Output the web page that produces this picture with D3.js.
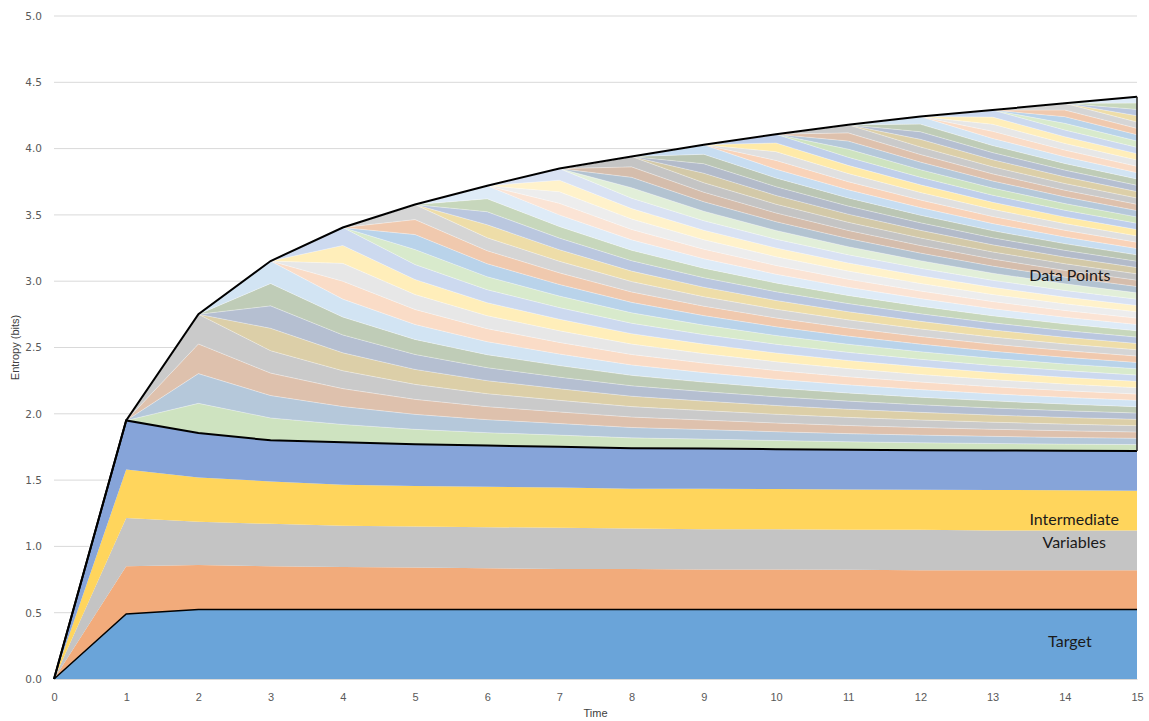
<!DOCTYPE html>
<html>
<head>
<meta charset="utf-8">
<script src="https://cdn.jsdelivr.net/npm/d3@7"></script>
<style>
  html, body { margin: 0; padding: 0; background: #fff; }
  svg { display: block; }
  .tick text { fill: #595959; }
</style>
</head>
<body>
<svg id="chart" width="1149" height="721"></svg>
<script>
// Time steps
const times = [0, 1, 2, 3, 4, 5, 6, 7, 8, 9, 10, 11, 12, 13, 14, 15];

// Entropy contributions (bits) of the target and the intermediate variables
const target        = [0, 0.49, 0.525, 0.525, 0.525, 0.525, 0.525, 0.525, 0.525, 0.525, 0.525, 0.525, 0.525, 0.525, 0.525, 0.525];
const intermediateA = [0, 0.36, 0.335, 0.325, 0.32, 0.315, 0.31, 0.305, 0.305, 0.30, 0.30, 0.298, 0.296, 0.295, 0.295, 0.295];
const intermediateB = [0, 0.364, 0.325, 0.32, 0.31, 0.31, 0.31, 0.31, 0.305, 0.305, 0.305, 0.302, 0.304, 0.30, 0.30, 0.30];
const intermediateC = [0, 0.366, 0.335, 0.32, 0.31, 0.305, 0.305, 0.305, 0.30, 0.305, 0.302, 0.305, 0.303, 0.306, 0.304, 0.30];
const intermediateD = [0, 0.37, 0.335, 0.31, 0.32, 0.315, 0.31, 0.307, 0.305, 0.303, 0.301, 0.298, 0.297, 0.297, 0.297, 0.30];

// Data points: a batch of new points arrives at each step from t = 2
const pointsPerBatch = 4;
const firstBatchTime = 2;
// entropy carried by each data point present at each time
const pointEntropy = [0, 0, 0.224, 0.169, 0.135, 0.113, 0.098, 0.0874, 0.0786, 0.0716, 0.066, 0.0613, 0.0572, 0.0535, 0.0504, 0.0477];

// Fill colours
const baseColors = ["#6AA4D9", "#F2AB7B", "#C4C4C4", "#FFD55C", "#86A4D9"];
const pointPalette = [
  "#5B9BD5", "#ED7D31", "#A5A5A5", "#FFC000", "#4472C4", "#70AD47",
  "#255E91", "#9E480E", "#636363", "#997300", "#264478", "#43682B",
  "#7CAFDD", "#F1975A", "#B7B7B7", "#FFCD33", "#698ED0", "#8CC168",
  "#327DC2", "#D26012", "#848484", "#CC9A00", "#335AA1", "#5A8A39",
  "#9DC3E6", "#F4B183", "#C9C9C9", "#FFD966", "#8FAADC", "#A9D18E",
  "#1F4E79", "#843C0C", "#525252", "#7F6000", "#203864", "#385723"
];

const yTicks = [0, 0.5, 1.0, 1.5, 2.0, 2.5, 3.0, 3.5, 4.0, 4.5, 5.0];

// ---- build the table ----
const baseKeys = ["target", "ivA", "ivB", "ivC", "ivD"];
const baseSeries = [target, intermediateA, intermediateB, intermediateC, intermediateD];
const lastTime = times[times.length - 1];
const pointKeys = [];
const pointBatch = [];
for (let b = firstBatchTime; b <= lastTime; b++) {
  for (let k = 0; k < pointsPerBatch; k++) {
    pointKeys.push("p" + pointKeys.length);
    pointBatch.push(b);
  }
}
const keys = baseKeys.concat(pointKeys);
const rows = times.map((t, i) => {
  const r = { time: t };
  baseKeys.forEach((k, j) => { r[k] = baseSeries[j][i]; });
  pointKeys.forEach((k, j) => {
    r[k] = t < pointBatch[j] ? 0 : pointEntropy[i];
  });
  return r;
});

const stacked = d3.stack().keys(keys)(rows);

// ---- layout ----
const svg = d3.select("#chart");
const margin = { left: 54, right: 12, top: 16, bottom: 42 };
const W = 1149, H = 721;
const x = d3.scaleLinear().domain([0, 15]).range([margin.left, W - margin.right]);
const y = d3.scaleLinear().domain([0, 5]).range([H - margin.bottom, margin.top]);

// gridlines
svg.append("g")
  .selectAll("line")
  .data(yTicks.filter(v => v > 0))
  .join("line")
  .attr("x1", x(0)).attr("x2", x(15))
  .attr("y1", d => y(d)).attr("y2", d => y(d))
  .attr("stroke", "#D9D9D9").attr("stroke-width", 1);

const area = d3.area()
  .x(d => x(d.data.time))
  .y0(d => y(d[0]))
  .y1(d => y(d[1]));

const colorOf = (i) => i < baseKeys.length ? baseColors[i] : pointPalette[i % pointPalette.length];

const layers = svg.append("g");
layers.selectAll("path")
  .data(stacked)
  .join("path")
  .attr("d", area)
  .attr("fill", (d, i) => i < baseKeys.length ? colorOf(i)
      : d3.interpolateRgb("#ffffff", colorOf(i))(0.34))
  .attr("stroke", (d, i) => i < baseKeys.length ? "none" : "#ffffff")
  .attr("stroke-opacity", 0.5)
  .attr("stroke-width", 0.5);

// outline lines
const line = d3.line().x(d => x(d.data.time)).y(d => y(d[1]));
const targetLayer = stacked[0];
const ivTop = stacked[baseKeys.length - 1];
const totalTop = stacked[stacked.length - 1];

svg.append("path").datum(targetLayer).attr("d", line)
  .attr("fill", "none").attr("stroke", "#000").attr("stroke-width", 1.5);
svg.append("path").datum(ivTop).attr("d", line)
  .attr("fill", "none").attr("stroke", "#000").attr("stroke-width", 2);
svg.append("path").datum(totalTop).attr("d", line)
  .attr("fill", "none").attr("stroke", "#000").attr("stroke-width", 2);
// right edge of the data-point block
const lastIdx = times.length - 1;
svg.append("line")
  .attr("x1", x(lastTime)).attr("x2", x(lastTime))
  .attr("y1", y(totalTop[lastIdx][1])).attr("y2", y(ivTop[lastIdx][1]))
  .attr("stroke", "#222").attr("stroke-width", 1.5);

// x axis
const xAxis = svg.append("g")
  .attr("transform", `translate(0,${y(0)})`)
  .call(d3.axisBottom(x).tickValues(times).tickFormat(d3.format("d")).tickSize(0).tickPadding(14));
xAxis.select(".domain").attr("stroke", "#D9D9D9");
xAxis.selectAll("text").attr("font-family", "Liberation Sans, sans-serif").attr("font-size", 11);

// y axis
const yAxis = svg.append("g")
  .attr("transform", `translate(${x(0) - 12},0)`)
  .call(d3.axisLeft(y).tickValues(yTicks).tickFormat(d3.format(".1f")).tickSize(0).tickPadding(0));
yAxis.select(".domain").remove();
yAxis.selectAll("text").attr("font-family", "DejaVu Sans, sans-serif").attr("font-size", 10.5);

// axis titles
svg.append("text")
  .attr("x", x(7.5)).attr("y", 717)
  .attr("text-anchor", "middle")
  .attr("font-family", "Liberation Sans, sans-serif").attr("font-size", 11)
  .attr("fill", "#404040")
  .text("Time");
svg.append("text")
  .attr("transform", `translate(19,${y(2.5)}) rotate(-90)`)
  .attr("text-anchor", "middle")
  .attr("font-family", "Liberation Sans, sans-serif").attr("font-size", 11)
  .attr("fill", "#404040")
  .text("Entropy (bits)");

// region labels
const labelFont = "Lato, 'Open Sans', sans-serif";
const labels = [
  { text: "Data Points", t: 14.07, v: 3.03 },
  { text: "Intermediate", t: 14.13, v: 1.195 },
  { text: "Variables", t: 14.13, v: 1.02 },
  { text: "Target", t: 14.07, v: 0.27 }
];
svg.append("g").selectAll("text")
  .data(labels)
  .join("text")
  .attr("x", d => x(d.t)).attr("y", d => y(d.v))
  .attr("text-anchor", "middle")
  .attr("dominant-baseline", "middle")
  .attr("font-family", labelFont).attr("font-size", 16)
  .attr("fill", "#1a1a1a")
  .text(d => d.text);
</script>
</body>
</html>
